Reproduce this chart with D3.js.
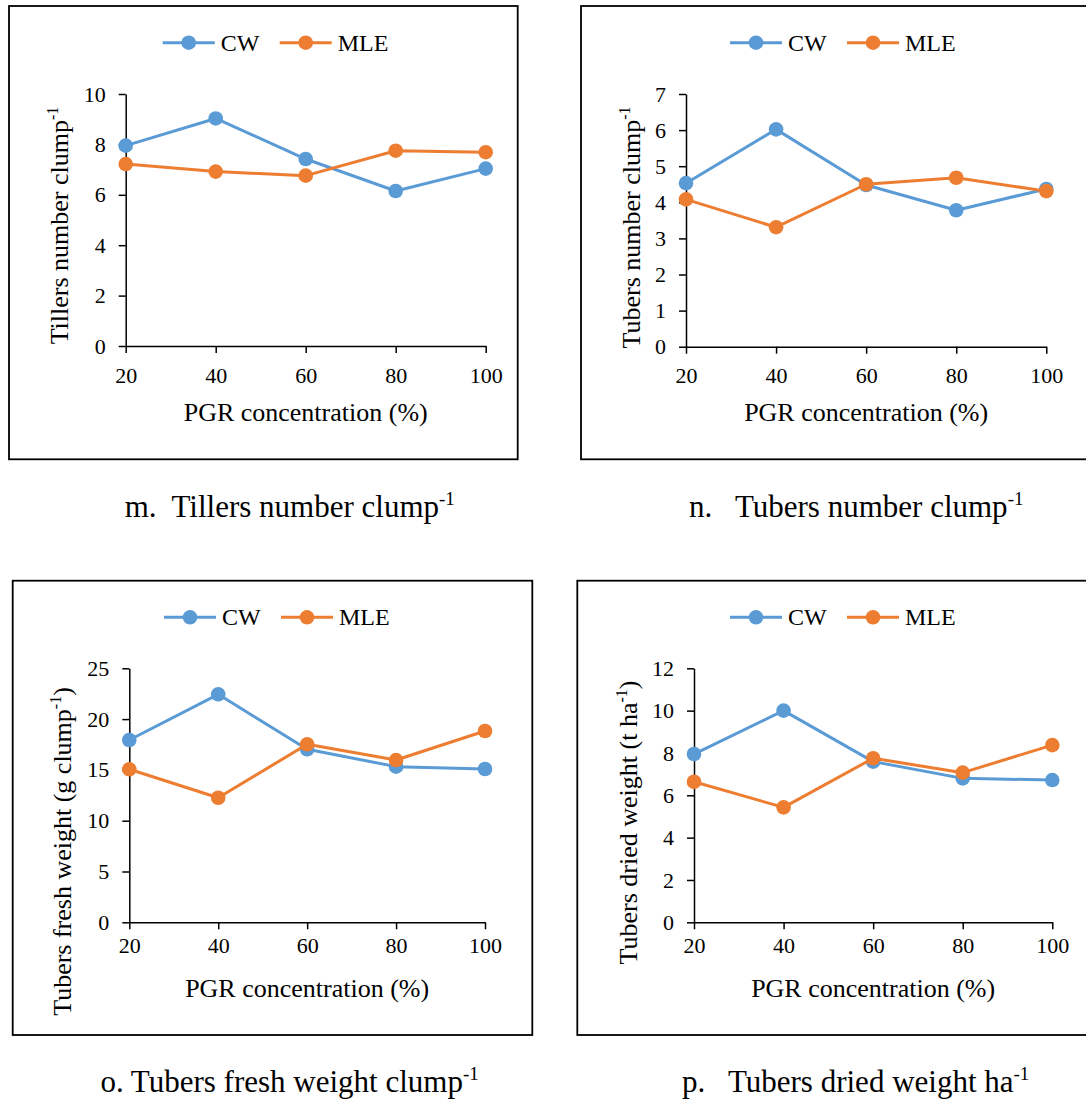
<!DOCTYPE html>
<html>
<head>
<meta charset="utf-8">
<script src="https://cdn.jsdelivr.net/npm/d3@7"></script>
<style>
  body { margin: 0; background: #fff; }
  .axis path, .axis line { stroke: #000; stroke-width: 1.5; }
</style>
</head>
<body>
<div id="chart"></div>
<script>
// --- data ---
const concentrations = ["20", "40", "60", "80", "100"];
const seriesNames = ["CW", "MLE"];
const seriesColors = ["#5B9BD5", "#ED7D31"];

const tillersCW = [7.95, 9.03, 7.42, 6.15, 7.04];
const tillersMLE = [7.22, 6.92, 6.76, 7.75, 7.69];
const tillersTicks = [0, 2, 4, 6, 8, 10];

const tubersNumCW = [4.53, 6.02, 4.48, 3.78, 4.37];
const tubersNumMLE = [4.08, 3.31, 4.50, 4.68, 4.31];
const tubersNumTicks = [0, 1, 2, 3, 4, 5, 6, 7];

const freshCW = [17.94, 22.44, 17.03, 15.32, 15.09];
const freshMLE = [15.06, 12.26, 17.52, 15.97, 18.83];
const freshTicks = [0, 5, 10, 15, 20, 25];

const driedCW = [7.95, 10.0, 7.59, 6.80, 6.72];
const driedMLE = [6.64, 5.43, 7.75, 7.07, 8.37];
const driedTicks = [0, 2, 4, 6, 8, 10, 12];

const FONT = "'Liberation Serif', 'Times New Roman', Tinos, 'DejaVu Serif', serif";

// --- layout per panel ---
const panels = [
  { cw: tillersCW, mle: tillersMLE, ticks: tillersTicks,
    box: [9, 6, 508.7, 453.3], xL: 125.7, xR: 485.7, y0: 346, yTop: 94, xPad: 14,
    xTitleY: 420.7, yTitle: ["Tillers number clump", "-1", ""], yTitleX: 68, yTitleY: 225.5,
    legX: 162.7, legY: 42.7,
    caption: ["m.  Tillers number clump", "-1"], capX: 124.7, capY: 516.7 },
  { cw: tubersNumCW, mle: tubersNumMLE, ticks: tubersNumTicks,
    box: [581, 6, 600, 453.3], xL: 686, xR: 1046.3, y0: 346.7, yTop: 94, xPad: 14,
    xTitleY: 420.7, yTitle: ["Tubers number clump", "-1", ""], yTitleX: 640, yTitleY: 227.5,
    legX: 730, legY: 42.7,
    caption: ["n.   Tubers number clump", "-1"], capX: 689, capY: 516.7 },
  { cw: freshCW, mle: freshMLE, ticks: freshTicks,
    box: [12.7, 580.7, 519.6, 454.3], xL: 129.3, xR: 485, y0: 922.3, yTop: 668.3, xPad: 8,
    xTitleY: 997.3, yTitle: ["Tubers fresh weight (g clump", "-1", ")"], yTitleX: 70.7, yTitleY: 851.5,
    legX: 164, legY: 617.3,
    caption: ["o. Tubers fresh weight clump", "-1"], capX: 100.4, capY: 1092 },
  { cw: driedCW, mle: driedMLE, ticks: driedTicks,
    box: [577.3, 580.7, 600, 454.3], xL: 694, xR: 1052.3, y0: 922.3, yTop: 668.3, xPad: 8,
    xTitleY: 997.3, yTitle: ["Tubers dried weight (t ha", "-1", ")"], yTitleX: 636.7, yTitleY: 822.5,
    legX: 730, legY: 617.3,
    caption: ["p.   Tubers dried weight ha", "-1"], capX: 682, capY: 1092 }
];

const svg = d3.select("#chart").append("svg")
  .attr("width", 1086)
  .attr("height", 1099);

svg.append("rect").attr("width", 1086).attr("height", 1099).attr("fill", "#fff");

function addSuper(textSel, parts, size, supSize, shift) {
  textSel.append("tspan").text(parts[0]);
  textSel.append("tspan").attr("dy", -shift).style("font-size", supSize + "px").text(parts[1]);
  if (parts[2]) textSel.append("tspan").attr("dy", shift).style("font-size", size + "px").text(parts[2]);
}

function drawPanel(p) {
  const g = svg.append("g");

  // kader rond de grafiek
  g.append("rect")
    .attr("x", p.box[0]).attr("y", p.box[1])
    .attr("width", p.box[2]).attr("height", p.box[3])
    .attr("fill", "none").attr("stroke", "#000").attr("stroke-width", 1.8);

  const x = d3.scalePoint().domain(concentrations).range([p.xL, p.xR]);
  const yMax = p.ticks[p.ticks.length - 1];
  const y = d3.scaleLinear().domain([0, yMax]).range([p.y0, p.yTop]);

  // assen
  const yAxis = g.append("g").attr("class", "axis")
    .attr("transform", `translate(${p.xL},0)`)
    .call(d3.axisLeft(y).tickValues(p.ticks).tickFormat(d3.format("d"))
      .tickSize(7).tickSizeOuter(0).tickPadding(13));

  const xAxis = g.append("g").attr("class", "axis")
    .attr("transform", `translate(0,${p.y0})`)
    .call(d3.axisBottom(x).tickSize(7).tickSizeOuter(0).tickPadding(p.xPad));

  [yAxis, xAxis].forEach(a => {
    a.attr("font-family", null).attr("font-size", null);
    a.selectAll("text").style("font-family", FONT).style("font-size", "22px").attr("fill", "#000");
  });

  // lijnen + punten (CW eerst, MLE erboven)
  [p.cw, p.mle].forEach((vals, i) => {
    const pts = concentrations.map((c, j) => ({ c: c, v: vals[j] }));
    g.append("path")
      .datum(pts)
      .attr("fill", "none")
      .attr("stroke", seriesColors[i])
      .attr("stroke-width", 3)
      .attr("stroke-linejoin", "round")
      .attr("d", d3.line().x(d => x(d.c)).y(d => y(d.v)));
    g.selectAll(null).data(pts).enter().append("circle")
      .attr("cx", d => x(d.c))
      .attr("cy", d => y(d.v))
      .attr("r", 7.3)
      .attr("fill", seriesColors[i]);
  });

  // legenda
  seriesNames.forEach((name, i) => {
    const lx = p.legX + i * 117;
    g.append("line")
      .attr("x1", lx).attr("x2", lx + 52)
      .attr("y1", p.legY).attr("y2", p.legY)
      .attr("stroke", seriesColors[i]).attr("stroke-width", 3);
    g.append("circle")
      .attr("cx", lx + 26).attr("cy", p.legY).attr("r", 7.3)
      .attr("fill", seriesColors[i]);
    g.append("text")
      .attr("x", lx + 58).attr("y", p.legY + 8)
      .style("font-family", FONT)
      .style("font-size", "24px")
      .text(name);
  });

  // as-titels
  g.append("text")
    .attr("x", (p.xL + p.xR) / 2).attr("y", p.xTitleY)
    .attr("text-anchor", "middle")
    .style("font-family", FONT)
    .style("font-size", "26px")
    .text("PGR concentration (%)");

  const yt = g.append("text")
    .attr("transform", `translate(${p.yTitleX},${p.yTitleY}) rotate(-90)`)
    .attr("text-anchor", "middle")
    .style("font-family", FONT)
    .style("font-size", "26px");
  addSuper(yt, p.yTitle, 26, 16, 10);

  // onderschrift
  const cap = g.append("text")
    .attr("x", p.capX).attr("y", p.capY)
    .style("font-family", FONT)
    .style("font-size", "31px")
    .style("white-space", "pre");
  addSuper(cap, p.caption, 31, 19, 12);
}

panels.forEach(drawPanel);
</script>
</body>
</html>
